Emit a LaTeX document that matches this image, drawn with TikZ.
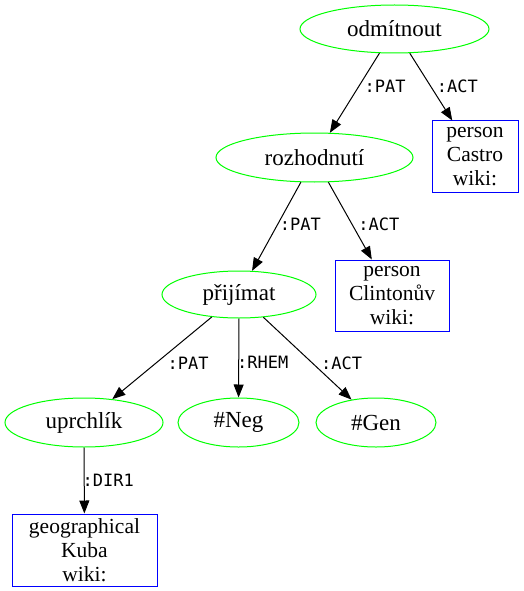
\documentclass[tikz,border=0pt]{standalone}
\usepackage{fontspec}
\usepackage{xcolor}
\usepackage{tikz}
\usetikzlibrary{arrows.meta,shapes.geometric}
\setmainfont{Liberation Serif}
\newfontfamily\relfont{DejaVu Sans Mono}
\definecolor{lem}{HTML}{00FF00}
\definecolor{ent}{HTML}{0000FF}

\tikzset{
  lemma/.style={ellipse,draw=lem,inner sep=0pt,minimum height=48pt,font=\fontsize{23}{24}\selectfont},
  entity/.style={rectangle,draw=ent,align=center,inner sep=0pt,minimum height=72pt,font=\fontsize{21.5}{24}\selectfont},
  rel/.style={-{Triangle[length=13pt,width=10pt]}},
  lbl/.style={font=\relfont\fontsize{17}{17}\selectfont,inner sep=0pt,anchor=west},
}

\begin{document}
\begin{tikzpicture}[x=1pt,y=-1pt,line width=1pt]
\useasboundingbox (0,0) rectangle (523,591);
% ---------- lemmas ----------
\node[lemma,minimum width=189pt] (odm) at (394.5,29) {odmítnout};
\node[lemma,minimum width=197pt,minimum height=49pt] (rozh) at (314.5,157.5) {rozhodnutí};
\node[lemma,minimum width=154pt,minimum height=47pt] (prij) at (239,294.5) {přijímat};
\node[lemma,minimum width=158pt,minimum height=49pt] (uprch) at (84,422.5) {uprchlík};
\node[lemma,minimum width=121pt,minimum height=49pt] (neg) at (238.5,422.5) {\#Neg};
\node[lemma,minimum width=120pt,minimum height=49pt] (gen) at (376,422.5) {\#Gen};
% ---------- entities ----------
\node[entity,minimum width=86pt,minimum height=71pt] (castro) at (475,156.5) {person\\Castro\\wiki:};
\node[entity,minimum width=114pt,minimum height=71pt] (clinton) at (392,295.5) {person\\Clintonův\\wiki:};
\node[entity,minimum width=145pt] (kuba) at (84.5,550) {geographical\\Kuba\\wiki:};
% ---------- relations ----------
\draw[rel] (odm) -- (rozh) node[lbl,pos=0.41,xshift=5pt]{:PAT};
\draw[rel] (odm) -- (castro) node[lbl,pos=0.485,xshift=6pt]{:ACT};
\draw[rel] (rozh) -- (prij) node[lbl,pos=0.48,xshift=2pt]{:PAT};
\draw[rel] (rozh) -- (clinton) node[lbl,pos=0.54,xshift=6pt]{:ACT};
\draw[rel] (prij) -- (uprch) node[lbl,pos=0.56,xshift=11pt]{:PAT};
\draw[rel] (prij) -- (neg) node[lbl,pos=0.56,xshift=-2pt]{:RHEM};
\draw[rel] (prij) -- (gen) node[lbl,pos=0.56,xshift=8pt]{:ACT};
\draw[rel] (uprch) -- (kuba) node[lbl,pos=0.49,xshift=-2pt]{:DIR1};
\end{tikzpicture}
\end{document}
